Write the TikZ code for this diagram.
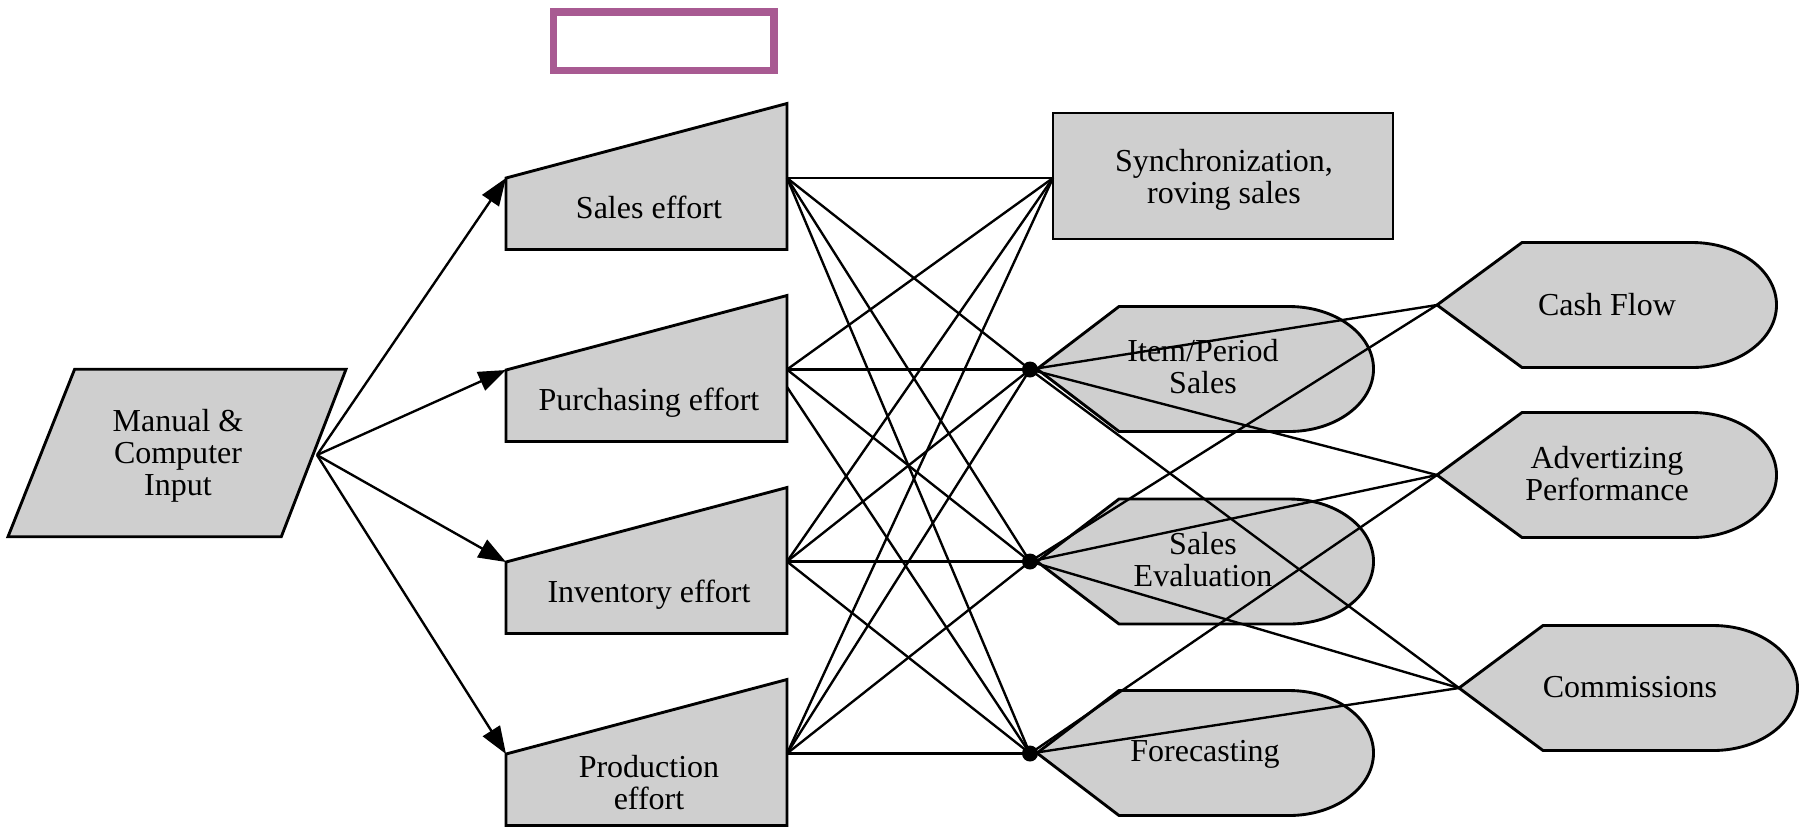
\documentclass[tikz,border=0pt]{standalone}
\usepackage{fontspec}
\setmainfont{Liberation Serif}
\usetikzlibrary{arrows.meta}
\definecolor{boxgray}{RGB}{207,207,207}
\definecolor{framepurple}{RGB}{168,90,146}

% display symbol: pointed left end, straight top and bottom, rounded right end
% #1 tip x, #2 centre y, #3 horizontal distance from tip to the corners
\newcommand{\dispshape}[3]{%
  \path[shapeline] (#1,#2) -- ++(#3,-62.5) -- ++(170,0)
    arc[start angle=-90,end angle=90,x radius=84.5,y radius=62.5]
    -- ++(-170,0) -- cycle;}

\begin{document}
\begin{tikzpicture}[x=0.4pt,y=-0.4pt,
  shapeline/.style={draw=black,fill=boxgray,line width=1.15pt,line join=miter},
  link/.style={draw=black,line width=0.95pt},
  feed/.style={link,-{Triangle[length=11pt,width=8pt]}},
  hub/.style={circle,fill=black,inner sep=0pt,minimum size=6.4pt},
  txt/.style={font=\fontsize{12.8}{12.8}\selectfont,align=center,inner sep=0pt,text depth=0pt}]
\useasboundingbox (0,0) rectangle (1804,828);

% empty title frame
\draw[framepurple,line width=3pt] (553.7,12.2) rectangle (774,70.7);

% input
\path[shapeline] (74.6,369.3) -- (346,369.3) -- (281.3,536.7) -- (8,536.7) -- cycle;
\coordinate (src) at (317,455);

% effort boxes (manual-input symbols)
\path[shapeline] (506,178) -- (787,103.5) -- (787,249.5) -- (506,249.5) -- cycle;
\path[shapeline] (506,370) -- (787,295.5) -- (787,441.5) -- (506,441.5) -- cycle;
\path[shapeline] (506,562) -- (787,487.5) -- (787,633.5) -- (506,633.5) -- cycle;
\path[shapeline] (506,754) -- (787,679.5) -- (787,825.5) -- (506,825.5) -- cycle;
\coordinate (salesin) at (506,178);
\coordinate (purchin) at (506,370);
\coordinate (invin)   at (506,562);
\coordinate (prodin)  at (506,754);
\coordinate (salesout) at (787,178);
\coordinate (purchout) at (787,369.5);
\coordinate (purchlow) at (787,387);
\coordinate (invout)   at (787,561.5);
\coordinate (prodout)  at (787,753.5);

% synchronization box
\path[shapeline] (1053,113) rectangle (1393,239);
\coordinate (syncin) at (1053,178);

% report displays
\dispshape{1037}{369}{82}
\dispshape{1037}{561.5}{82}
\dispshape{1037}{753}{82}
\dispshape{1437}{305}{85}
\dispshape{1437}{475}{85}
\dispshape{1459}{688}{84}
\coordinate (cash) at (1437,305);
\coordinate (adv)  at (1437,475);
\coordinate (comm) at (1459,688);

% junction dots
\node[hub] (hubA) at (1030,369.5) {};
\node[hub] (hubB) at (1030,561.5) {};
\node[hub] (hubC) at (1030,753.5) {};

% input feeds the four efforts
\draw[feed] (src) -- (salesin);
\draw[feed] (src) -- (purchin);
\draw[feed] (src) -- (invin);
\draw[feed] (src) -- (prodin);

% every effort reaches every target
\foreach \s in {salesout,invout,prodout}
  \foreach \t in {syncin,hubA.center,hubB.center,hubC.center}
    \draw[link] (\s) -- (\t);
\draw[link] (purchout) -- (syncin);
\draw[link] (purchout) -- (hubA.center);
\draw[link] (purchout) -- (hubB.center);
\draw[link] (purchlow) -- (hubC.center);

% junctions to the reports
\draw[link] (hubA.center) -- (cash);
\draw[link] (hubA.center) -- (adv);
\draw[link] (hubA.center) -- (comm);
\draw[link] (hubB.center) -- (cash);
\draw[link] (hubB.center) -- (adv);
\draw[link] (hubB.center) -- (comm);
\draw[link] (hubC.center) -- (adv);
\draw[link] (hubC.center) -- (comm);

% texts
\node[txt] (inputtxt) at (178,452) {Manual \&\\Computer\\Input};
\node[txt] (salestxt) at (649,207) {Sales effort};
\node[txt] (purchtxt) at (649,399) {Purchasing effort};
\node[txt] (invtxt)   at (649,591) {Inventory effort};
\node[txt] (prodtxt)  at (649,782) {Production\\effort};
\node[txt] (synctxt)  at (1224,176) {Synchronization,\\roving sales};
\node[txt] (itemtxt)  at (1203,366) {Item/Period\\Sales};
\node[txt] (evaltxt)  at (1203,559) {Sales\\Evaluation};
\node[txt] (foretxt)  at (1205,751) {Forecasting};
\node[txt] (cashtxt)  at (1607,304) {Cash Flow};
\node[txt] (advtxt)   at (1607,473) {Advertizing\\Performance};
\node[txt] (commtxt)  at (1630,687) {Commissions};
\end{tikzpicture}
\end{document}
